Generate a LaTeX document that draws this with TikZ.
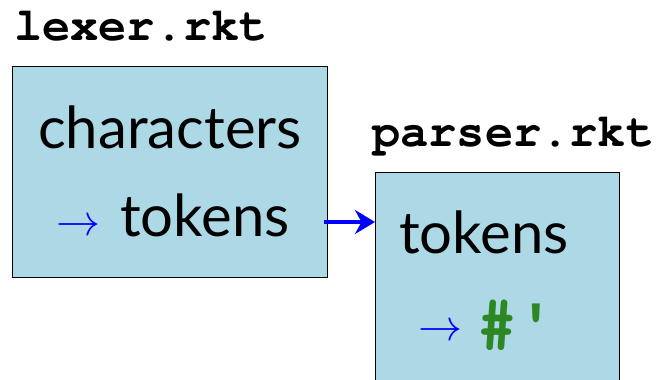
\documentclass[tikz,border=0pt]{standalone}
\usepackage{fix-cm}
\usepackage{fontspec}
\setmainfont{Lato}
\setmonofont{texgyrecursor-regular.otf}[BoldFont=texgyrecursor-bold.otf]
\usetikzlibrary{arrows.meta}
\definecolor{boxblue}{RGB}{173,216,230}
\definecolor{codegreen}{RGB}{45,135,35}
\tikzset{
  x=1pt,y=-1pt,
  modbox/.style={draw=black,line width=1.3pt,fill=boxblue,anchor=north west,inner sep=0pt},
  filelabel/.style={anchor=base west,inner sep=0pt,font=\fontsize{47}{47}\selectfont\ttfamily\bfseries},
  bodytext/.style={anchor=base west,inner sep=0pt,font=\fontsize{58}{58}\selectfont},
  bluearrow/.style={anchor=base west,inner sep=0pt,text=blue,font=\fontsize{44}{44}\selectfont},
  flow/.style={draw=blue,line width=4.2pt,-{Stealth[length=20pt,width=24pt]}}
}
\begin{document}
\begin{tikzpicture}
\useasboundingbox (0,0) rectangle (665,380);
\clip (0,0) rectangle (665,380);
\node[modbox,minimum width=315pt,minimum height=211pt] (lexbox) at (12,66) {};
\node[modbox,minimum width=244pt,minimum height=230pt] (parbox) at (375,172) {};
\node[filelabel] (lexname) at (14,40) {lexer.rkt};
\node[filelabel] (parname) at (372,146) {parser.rkt};
\node[bodytext] (chars) at (38,148) {characters};
\node[bluearrow] (arr1) at (56,235) {$\rightarrow$};
\node[bodytext] (tok1) at (120,236) {tokens};
\node[bodytext] (tok2) at (399,253) {tokens};
\node[bluearrow] (arr2) at (418,340) {$\rightarrow$};
\node[anchor=base west,inner sep=0pt,text=codegreen,font=\fontsize{66}{66}\selectfont\ttfamily\bfseries] (quote) at (477,344) {\#'};
\coordinate (arrowy) at (0,222);
\draw[flow] (lexbox.east |- arrowy) ++(-4,0) -- (parbox.west |- arrowy);
\end{tikzpicture}
\end{document}
